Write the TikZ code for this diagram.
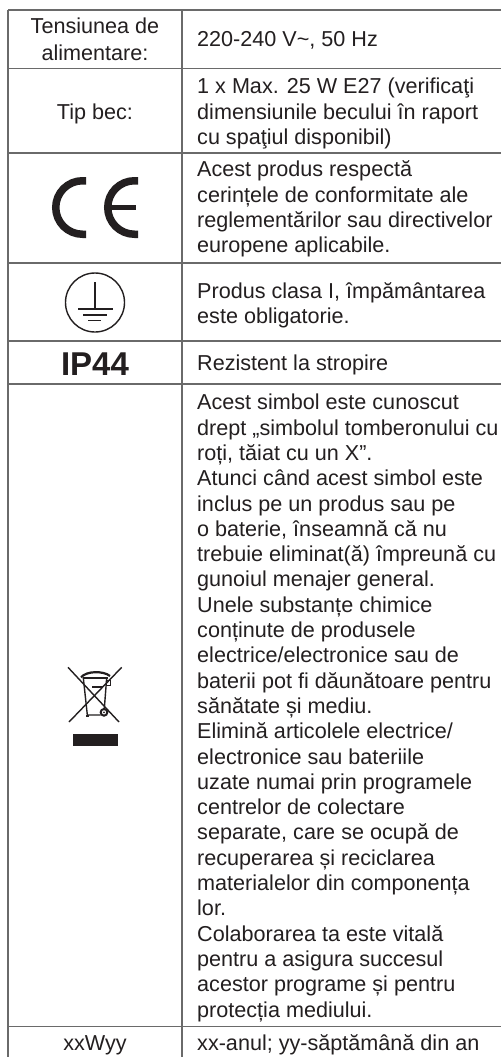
\documentclass[tikz,border=0pt]{standalone}
\usepackage{fontspec}
\setmainfont{Liberation Sans}
\definecolor{ink}{HTML}{231F20}
\definecolor{rule}{HTML}{6A6A6A}
\newcommand\tops{\rule{0pt}{18pt}}
\tikzset{
  grid/.style={draw=rule,line width=1.3pt},
  cell/.style={inner sep=0pt,text=ink,font=\fontsize{21.6}{25.3}\selectfont},
  rcell/.style={cell,anchor=north west,align=left},
  lcell/.style={cell,anchor=north,align=center},
  sym/.style={draw=ink,line width=1.4pt},
  cemark/.style={draw=ink,line width=7.5pt},
  binline/.style={draw=ink,line width=1.4pt}
}
\begin{document}
\begin{tikzpicture}[x=1pt,y=-1pt]
\useasboundingbox (0,0) rectangle (501,1057);
\fill[white] (0,0) rectangle (501,1057);
% grid
\draw[grid] (8,10) -- (501,10);
\foreach \yy in {68.5,153,263,341,384,1026.7} \draw[grid] (8,\yy) -- (501,\yy);
\draw[grid] (8,10) -- (8,1057);
\draw[grid] (182,10) -- (182,1057);
% left column
\node[lcell,font=\fontsize{21.6}{26.5}\selectfont] (l1) at (95,15.3) {\tops Tensiunea de\\alimentare:};
\node[lcell] (l2) at (95,101.5) {\tops Tip bec:};
\node[cell,font=\fontsize{33}{33}\bfseries\selectfont,anchor=base] (l5) at (95,375) {IP44};
\node[lcell] (l7) at (95,1032.3) {\tops xxWyy};
% right column
\node[rcell] (r1) at (197,28.7) {\tops 220-240 V\char"007E, 50 Hz};
\node[rcell] (r2) at (197,75.5) {\tops 1 x Max. 25 W E27 (verificaţi\\dimensiunile becului în raport\\cu spaţiul disponibil)};
\node[rcell] (r3) at (197,158.7) {\tops Acest produs respectă\\cerințele de conformitate ale\\reglementărilor sau directivelor\\europene aplicabile.};
\node[rcell] (r4) at (197,280) {\tops Produs clasa I, împământarea\\este obligatorie.};
\node[rcell] (r5) at (197,352) {\tops Rezistent la stropire};
\node[rcell] (r6) at (197,391.6) {\tops Acest simbol este cunoscut\\drept „simbolul tomberonului cu\\roți, tăiat cu un X”.\\Atunci când acest simbol este\\inclus pe un produs sau pe\\o baterie, înseamnă că nu\\trebuie eliminat(ă) împreună cu\\gunoiul menajer general.\\Unele substanțe chimice\\conținute de produsele\\electrice/electronice sau de\\baterii pot fi dăunătoare pentru\\sănătate și mediu.\\Elimină articolele electrice/\\electronice sau bateriile\\uzate numai prin programele\\centrelor de colectare\\separate, care se ocupă de\\recuperarea și reciclarea\\materialelor din componența\\lor.\\Colaborarea ta este vitală\\pentru a asigura succesul\\acestor programe și pentru\\protecția mediului.};
\node[rcell] (r7) at (197,1032.3) {\tops xx-anul; yy-săptămână din an};
% CE mark
\draw[cemark] (86,180.75) -- (82.5,180.75) arc (-90:-270:26.75) -- (86,234.25);
\draw[cemark] (138,180.75) -- (134.5,180.75) arc (-90:-270:26.75) -- (138,234.25);
\draw[draw=ink,line width=5.5pt] (108,207.5) -- (136,207.5);
% protective earth
\draw[sym] (95,302.5) circle (29.5);
\draw[sym] (95,282) -- (95,309);
\draw[sym] (78,309) -- (113,309);
\draw[sym] (83,315) -- (107,315);
\draw[sym] (88,320.5) -- (101,320.5);
% crossed-out bin
\begin{scope}[shift={(40,650)},scale=1/3]
\draw[binline] (84,52) -- (237,216);
\draw[binline] (245,52) -- (87,216);
\draw[binline] (130,84) -- (142,195) -- (182,195);
\draw[binline] (200,84) -- (193,175);
\draw[binline,line width=2.2pt] (123,82) .. controls (140,62) and (190,62) .. (210,78);
\draw[binline] (128,84) -- (203,84);
\fill[ink] (155,108) rectangle (188,115);
\draw[binline] (200,92) rectangle (212,106);
\draw[binline,line width=2pt] (192,187) circle (10);
\fill[ink] (192,187) circle (3);
\fill[ink] (139,195) rectangle (147,201);
\fill[ink] (99,252) rectangle (234,288);
\end{scope}
\end{tikzpicture}
\end{document}
